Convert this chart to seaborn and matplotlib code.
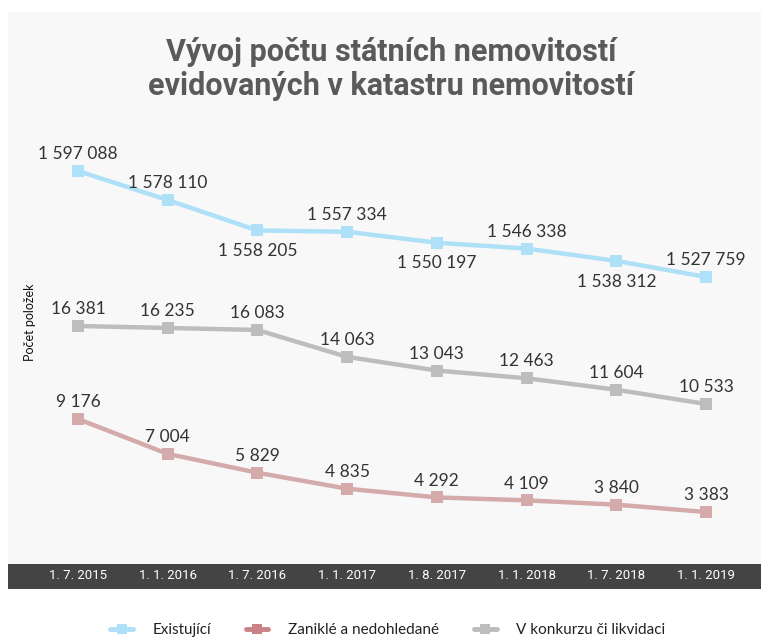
import matplotlib
matplotlib.use("Agg")
import matplotlib.pyplot as plt
import seaborn as sns
from matplotlib.lines import Line2D

dates = ["1. 7. 2015", "1. 1. 2016", "1. 7. 2016", "1. 1. 2017",
         "1. 8. 2017", "1. 1. 2018", "1. 7. 2018", "1. 1. 2019"]
existujici = [1597088, 1578110, 1558205, 1557334, 1550197, 1546338, 1538312, 1527759]
konkurz = [16381, 16235, 16083, 14063, 13043, 12463, 11604, 10533]
zanikle = [9176, 7004, 5829, 4835, 4292, 4109, 3840, 3383]
series_names = ["Existující", "Zaniklé a nedohledané", "V konkurzu či likvidaci"]
title = "Vývoj počtu státních nemovitostí\nevidovaných v katastru nemovitostí"
ylabel = "Počet položek"
# label placement for blue series: True = above
blue_above = [True, True, False, True, False, True, False, True]

sns.set_theme(style="white")
plt.rcParams['font.family'] = ['Lato', 'DejaVu Sans']

W, H = 761, 638
fig = plt.figure(figsize=(W / 100, H / 100), dpi=100)
fig.patch.set_facecolor("white")

def rect(x0, y0, x1, y1):
    return [x0 / W, 1 - y1 / H, (x1 - x0) / W, (y1 - y0) / H]

xlim = (-0.780, 7.613)
idx = list(range(len(dates)))

# background panel
bg = fig.add_axes(rect(8, 12, 761, 564))
bg.set_facecolor("#f8f8f8")
bg.set_xticks([]); bg.set_yticks([])
for s in bg.spines.values():
    s.set_visible(False)

# date bar
bar = fig.add_axes(rect(8, 564, 761, 589))
bar.set_facecolor("#444444")
bar.set_xlim(*xlim)
bar.set_ylim(0, 1)
bar.set_yticks([])
bar.set_xticks(idx)
bar.set_xticklabels(dates, color="white", fontsize=9.5,
                    family=['Roboto', 'DejaVu Sans'])
bar.tick_params(axis="x", length=0, pad=-14.5)
for s in bar.spines.values():
    s.set_visible(False)

blue = "#aee0f8"
gray = "#bdbdbd"
pink = "#d4aaab"
txtc = "#333333"

def series_ax(y0, y1, vtop, vbot, vals, color, above_list):
    ax = fig.add_axes(rect(8, y0, 761, y1))
    ax.patch.set_alpha(0)
    sns.lineplot(x=idx, y=vals, ax=ax, color=color, linewidth=3.2,
                 marker="s", markersize=8, markeredgewidth=0)
    ax.set_xlim(*xlim)
    ax.set_ylim(vbot, vtop)
    ax.set_xticks([]); ax.set_yticks([])
    ax.set_xlabel(""); ax.set_ylabel("")
    for s in ax.spines.values():
        s.set_visible(False)
    for i, v in enumerate(vals):
        lab = f"{v:,}".replace(",", " ")
        if above_list[i]:
            off = 8.5
        else:
            off = -18.5
        ax.annotate(lab, (i, v), xytext=(0, off), textcoords="offset points",
                    ha="center", va="baseline", fontsize=12.5, color=txtc)
    return ax

# blue: 1597088 at y=171, 1527759 at y=277
upp = (1597088 - 1527759) / (277 - 171)
series_ax(130, 310, 1597088 + (171 - 130) * upp, 1527759 - (310 - 277) * upp,
          existujici, blue, blue_above)
# gray: 16381 at 326, 10533 at 404
upp = (16381 - 10533) / (404 - 326)
series_ax(300, 410, 16381 + (326 - 300) * upp, 10533 - (410 - 404) * upp,
          konkurz, gray, [True] * 8)
# pink: 9176 at 419, 3383 at 512
upp = (9176 - 3383) / (512 - 419)
series_ax(395, 560, 9176 + (419 - 395) * upp, 3383 - (560 - 512) * upp,
          zanikle, pink, [True] * 8)

fig.text(391 / W, 1 - 69 / H, title, ha="center", va="center",
         fontsize=22, fontweight="bold", color="#5a5a5a", linespacing=1.2,
         family=['Liberation Sans Narrow', 'Roboto', 'DejaVu Sans'], stretch="condensed")

fig.text(30 / W, 1 - 322 / H, ylabel, rotation=90, ha="center", va="center",
         fontsize=9, color="#111111")

handles = [Line2D([], [], color=c, lw=3.5, marker="s", markersize=7, markeredgewidth=0)
           for c in ["#aee0f8", "#c98384", "#bdbdbd"]]
fig.legend(handles, series_names, loc="center", bbox_to_anchor=(388 / W, 1 - 630 / H),
           ncol=3, frameon=False, fontsize=11, handlelength=1.45, handletextpad=1.3,
           columnspacing=2.3, labelcolor="#222222")

fig.savefig("out.png", dpi=100, facecolor="white")
